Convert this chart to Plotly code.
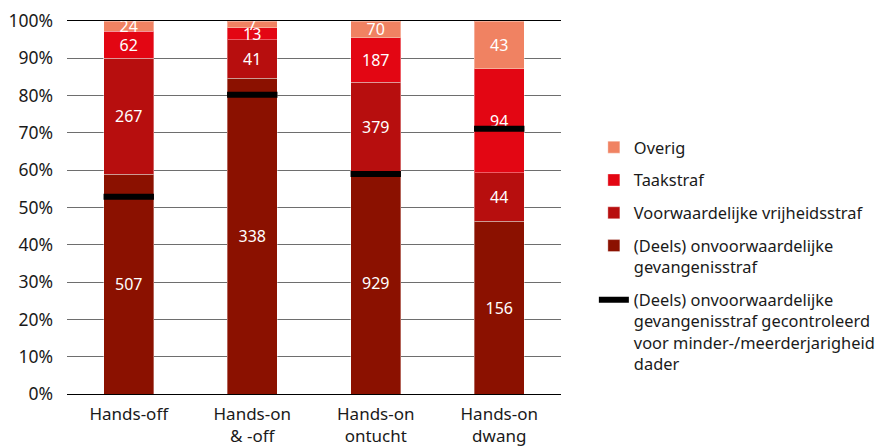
import plotly.graph_objects as go

categories = ["Hands-off", "Hands-on<br>& -off", "Hands-on<br>ontucht", "Hands-on<br>dwang"]
deels = [507, 338, 929, 156]
voorwaardelijk = [267, 41, 379, 44]
taakstraf = [62, 13, 187, 94]
overig = [24, 7, 70, 43]
gecontroleerd_pct = [52.9, 80.2, 59.0, 71.1]

names = [
    "(Deels) onvoorwaardelijke<br>gevangenisstraf",
    "Voorwaardelijke vrijheidsstraf",
    "Taakstraf",
    "Overig",
]
line_name = ("(Deels) onvoorwaardelijke<br>gevangenisstraf gecontroleerd<br>"
             "voor minder-/meerderjarigheid<br>dader")
colors = ["#8B1100", "#B70E0E", "#E30613", "#F08262"]
series = [deels, voorwaardelijk, taakstraf, overig]
ranks = [4, 3, 2, 1]

FONT = "Noto Sans"

fig = go.Figure()
for vals, name, col, rk in zip(series, names, colors, ranks):
    fig.add_trace(go.Bar(
        x=categories, y=vals, name=name, marker_color=col,
        marker_line=dict(color="rgba(255,255,255,0.35)", width=1),
        text=[str(v) for v in vals], textposition="inside",
        insidetextanchor="middle", constraintext="none", textangle=0,
        textfont=dict(color="white", size=16, family=FONT),
        legendrank=rk, legendgroup=name, hoverinfo="skip",
    ))

fig.add_trace(go.Scatter(
    x=categories, y=gecontroleerd_pct, mode="markers",
    marker=dict(symbol="line-ew", size=36, line=dict(width=6, color="black")),
    showlegend=False, legendgroup="ctrl", hoverinfo="skip",
))
fig.add_trace(go.Scatter(
    x=[None], y=[None], mode="lines", line=dict(color="black", width=6),
    name=line_name, legendgroup="ctrl", legendrank=5,
))

fig.update_layout(
    width=881, height=438,
    margin=dict(l=59, r=328, t=13, b=52),
    barmode="stack", barnorm="percent", bargap=0.594,
    plot_bgcolor="white", paper_bgcolor="white",
    font=dict(family=FONT, size=17, color="#1a1a1a"),
    legend=dict(
        xref="container", yref="container",
        x=0.665, xanchor="left", y=0.7215, yanchor="top",
        traceorder="grouped", tracegroupgap=8.5, valign="top",
        font=dict(size=16.4, family=FONT), maxheight=400,
        bgcolor="rgba(0,0,0,0)", borderwidth=0,
    ),
    showlegend=True,
)
fig.update_yaxes(
    range=[0, 100], dtick=10, ticksuffix="%", showgrid=True,
    gridcolor="#6e6e6e", gridwidth=1, zeroline=False,
    ticklabelstandoff=13, tickfont=dict(size=17.5), automargin=False,
)
fig.update_xaxes(
    showline=True, mirror=True, linecolor="black", linewidth=1.3,
    tickfont=dict(size=17), ticks="", automargin=False, ticklabelstandoff=4,
)

fig.write_html("out.html")
